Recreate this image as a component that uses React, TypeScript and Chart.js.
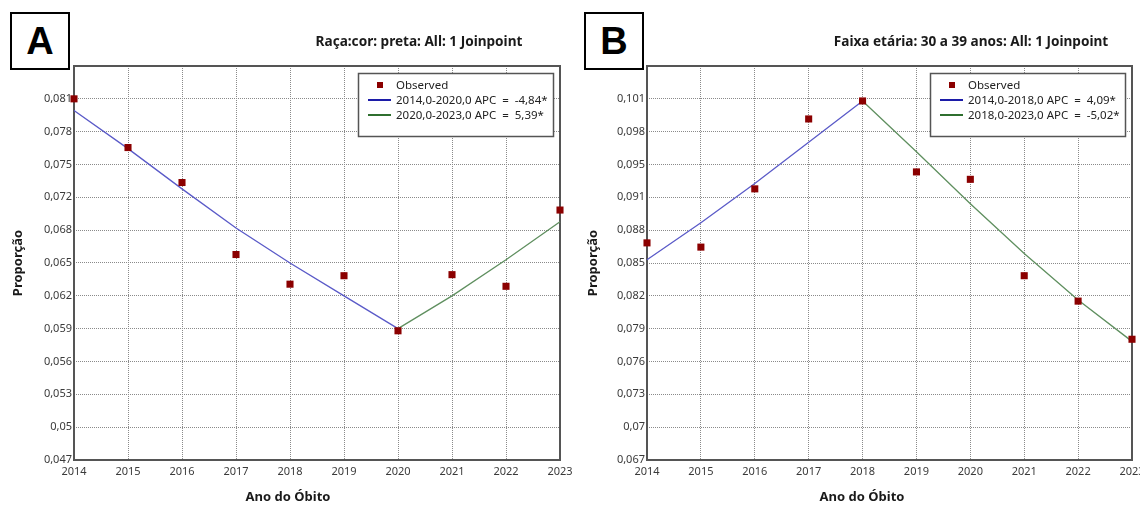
import React, { useEffect, useRef } from 'react';
import { Chart, registerables } from 'chart.js';

Chart.register(...registerables);

// ---------- DATA ----------
const years = [2014, 2015, 2016, 2017, 2018, 2019, 2020, 2021, 2022, 2023];

const observedA = [0.0809, 0.0763, 0.0730, 0.0662, 0.0634, 0.0642, 0.0590, 0.0643, 0.0632, 0.0704];
const fitYearsA1 = [2014, 2015, 2016, 2017, 2018, 2019, 2020];
const fitA1 = [0.0798, 0.0762, 0.0724, 0.0687, 0.0654, 0.0623, 0.0592];
const fitYearsA2 = [2020, 2021, 2022, 2023];
const fitA2 = [0.0592, 0.0623, 0.0657, 0.0693];
const yTickLabelsA = ['0,047', '0,05', '0,053', '0,056', '0,059', '0,062', '0,065', '0,068', '0,072', '0,075', '0,078', '0,081'];

const observedB = [0.0872, 0.0868, 0.0923, 0.0989, 0.1006, 0.0939, 0.0932, 0.0841, 0.0817, 0.0781];
const fitYearsB1 = [2014, 2015, 2016, 2017, 2018];
const fitB1 = [0.0856, 0.0891, 0.0928, 0.0967, 0.1006];
const fitYearsB2 = [2018, 2019, 2020, 2021, 2022, 2023];
const fitB2 = [0.1006, 0.0958, 0.0909, 0.0862, 0.0818, 0.0779];
const yTickLabelsB = ['0,067', '0,07', '0,073', '0,076', '0,079', '0,082', '0,085', '0,088', '0,091', '0,095', '0,098', '0,101'];

const legendA = ['Observed', '2014,0-2020,0 APC  =  -4,84*', '2020,0-2023,0 APC  =  5,39*'];
const legendB = ['Observed', '2014,0-2018,0 APC  =  4,09*', '2018,0-2023,0 APC  =  -5,02*'];

const titleA = 'Raça:cor: preta: All: 1 Joinpoint';
const titleB = 'Faixa etária: 30 a 39 anos: All: 1 Joinpoint';
const xTitle = 'Ano do Óbito';
const yTitle = 'Proporção';

// ---------- STYLE ----------
const FONT = '"Noto Sans", "Open Sans", sans-serif';
const MARKER = '#8b0000';
const BLUE_LINE = '#5a5ac8';
const GREEN_LINE = '#5f8f5f';
const BLUE_LEG = '#1c1ca8';
const GREEN_LEG = '#2f6f2f';

type Panel = {
  left: number;
  width: number;
  yAxisWidth: number;
  rightPad: number;
  yMin: number;
  yStep: number;
  yLabels: string[];
  observed: number[];
  fit1x: number[];
  fit1: number[];
  fit2x: number[];
  fit2: number[];
  legend: string[];
  title: string;
  titleX: number;
  xTitleX: number;
  legendX: number;
};

const panels: Panel[] = [
  {
    left: 0, width: 572, yAxisWidth: 74, rightPad: 12,
    yMin: 0.0468, yStep: 0.0031, yLabels: yTickLabelsA,
    observed: observedA, fit1x: fitYearsA1, fit1: fitA1, fit2x: fitYearsA2, fit2: fitA2,
    legend: legendA, title: titleA, titleX: 419, xTitleX: 288, legendX: 358,
  },
  {
    left: 575, width: 565, yAxisWidth: 72, rightPad: 8,
    yMin: 0.0667, yStep: 0.0031, yLabels: yTickLabelsB,
    observed: observedB, fit1x: fitYearsB1, fit1: fitB1, fit2x: fitYearsB2, fit2: fitB2,
    legend: legendB, title: titleB, titleX: 396, xTitleX: 287, legendX: 355,
  },
];

function makeDecor(p: Panel) {
  return {
    id: 'decor',
    beforeDatasetsDraw(chart: any) {
      const { ctx, chartArea: ca } = chart;
      ctx.save();
      ctx.strokeStyle = '#555';
      ctx.lineWidth = 2;
      ctx.strokeRect(ca.left, ca.top, ca.right - ca.left, ca.bottom - ca.top);
      ctx.restore();
    },
    afterDatasetsDraw(chart: any) {
      const { ctx } = chart;
      ctx.save();
      // chart title
      ctx.fillStyle = '#1a1a1a';
      ctx.textAlign = 'center';
      ctx.textBaseline = 'middle';
      ctx.font = `bold 13.6px ${FONT}`;
      ctx.fillText(p.title, p.titleX, 42);
      // x axis title
      ctx.font = `bold 13px ${FONT}`;
      ctx.fillText(xTitle, p.xTitleX, 497);
      // legend box
      const bx = p.legendX, by = 73, bw = 195, bh = 63;
      ctx.fillStyle = '#fff';
      ctx.fillRect(bx, by, bw, bh);
      ctx.strokeStyle = '#555';
      ctx.lineWidth = 1.5;
      ctx.strokeRect(bx + 0.5, by + 0.5, bw, bh);
      ctx.font = `11.5px ${FONT}`;
      ctx.textAlign = 'left';
      const rows = [by + 12, by + 27, by + 42];
      // observed marker
      ctx.fillStyle = MARKER;
      ctx.fillRect(bx + 19, rows[0] - 3, 6, 6);
      ctx.lineWidth = 2;
      ctx.strokeStyle = BLUE_LEG;
      ctx.beginPath(); ctx.moveTo(bx + 10, rows[1]); ctx.lineTo(bx + 33, rows[1]); ctx.stroke();
      ctx.strokeStyle = GREEN_LEG;
      ctx.beginPath(); ctx.moveTo(bx + 10, rows[2]); ctx.lineTo(bx + 33, rows[2]); ctx.stroke();
      ctx.fillStyle = '#222';
      p.legend.forEach((t, i) => ctx.fillText(t, bx + 38, rows[i] + 0.5));
      ctx.restore();
    },
  };
}

function ChartPanel({ p }: { p: Panel }) {
  const ref = useRef<HTMLCanvasElement | null>(null);
  useEffect(() => {
    if (!ref.current) return;
    const yMax = p.yMin + 12 * p.yStep;
    const chart = new Chart(ref.current, {
      type: 'line',
      data: {
        datasets: [
          {
            label: 'Observed',
            data: years.map((x, i) => ({ x, y: p.observed[i] })),
            showLine: false,
            pointStyle: 'rect',
            pointRadius: 5,
            backgroundColor: MARKER,
            borderColor: MARKER,
            borderWidth: 0,
            clip: false,
            order: 0,
          } as any,
          {
            label: 'fit1',
            data: p.fit1x.map((x, i) => ({ x, y: p.fit1[i] })),
            borderColor: BLUE_LINE,
            borderWidth: 1.3,
            pointRadius: 0,
            tension: 0,
            clip: false,
            order: 1,
          } as any,
          {
            label: 'fit2',
            data: p.fit2x.map((x, i) => ({ x, y: p.fit2[i] })),
            borderColor: GREEN_LINE,
            borderWidth: 1.3,
            pointRadius: 0,
            tension: 0,
            clip: false,
            order: 1,
          } as any,
        ],
      },
      options: {
        animation: false,
        responsive: false,
        maintainAspectRatio: false,
        layout: { padding: { left: 0, right: p.rightPad, top: 66, bottom: 0 } },
        plugins: { legend: { display: false }, tooltip: { enabled: false }, title: { display: false } },
        scales: {
          x: {
            type: 'linear',
            min: 2014,
            max: 2023,
            afterBuildTicks: (scale: any) => {
              scale.ticks = years.map((v) => ({ value: v }));
            },
            afterFit: (scale: any) => {
              scale.height = 47;
              scale.paddingLeft = 0;
              scale.paddingRight = 0;
            },
            ticks: {
              autoSkip: false,
              maxRotation: 0,
              padding: 5,
              color: '#3a3a3a',
              font: { family: FONT, size: 11 },
              callback: (v: any) => String(v),
            },
            grid: { color: '#8a8a8a', drawTicks: false, lineWidth: 1 },
            border: { display: false, dash: [1, 1] },
          },
          y: {
            type: 'linear',
            min: p.yMin,
            max: yMax,
            afterBuildTicks: (scale: any) => {
              scale.ticks = Array.from({ length: 13 }, (_, i) => ({ value: p.yMin + i * p.yStep }));
            },
            afterFit: (scale: any) => {
              scale.width = p.yAxisWidth;
              scale.paddingTop = 0;
              scale.paddingBottom = 0;
            },
            ticks: {
              autoSkip: false,
              padding: 2,
              color: '#3a3a3a',
              font: { family: FONT, size: 11 },
              callback: (_v: any, i: number) => p.yLabels[i] ?? '',
            },
            grid: { color: '#8a8a8a', drawTicks: false, lineWidth: 1 },
            border: { display: false, dash: [1, 1] },
            title: {
              display: true,
              text: yTitle,
              color: '#1a1a1a',
              font: { family: FONT, size: 13, weight: 'bold' },
              padding: { top: 10, bottom: 0 },
            },
          },
        },
      } as any,
      plugins: [makeDecor(p)],
    });
    return () => chart.destroy();
  }, [p]);
  return (
    <canvas
      ref={ref}
      width={p.width}
      height={507}
      style={{ position: 'absolute', left: p.left, top: 0, width: p.width, height: 507 }}
    />
  );
}

const letterBox = (left: number): React.CSSProperties => ({
  position: 'absolute',
  left,
  top: 12,
  width: 56,
  height: 54,
  border: '2px solid #000',
  background: '#fff',
  fontFamily: '"Liberation Sans", Arial, sans-serif',
  fontWeight: 'bold',
  fontSize: 38,
  lineHeight: '54px',
  textAlign: 'center',
  color: '#000',
});

export default function App() {
  return (
    <div
      style={{
        position: 'absolute',
        left: 0,
        top: 0,
        width: 1140,
        height: 507,
        overflow: 'hidden',
        background: '#fff',
      }}
    >
      {panels.map((p, i) => (
        <ChartPanel key={i} p={p} />
      ))}
      <div style={letterBox(10)}>A</div>
      <div style={letterBox(584)}>B</div>
    </div>
  );
}
